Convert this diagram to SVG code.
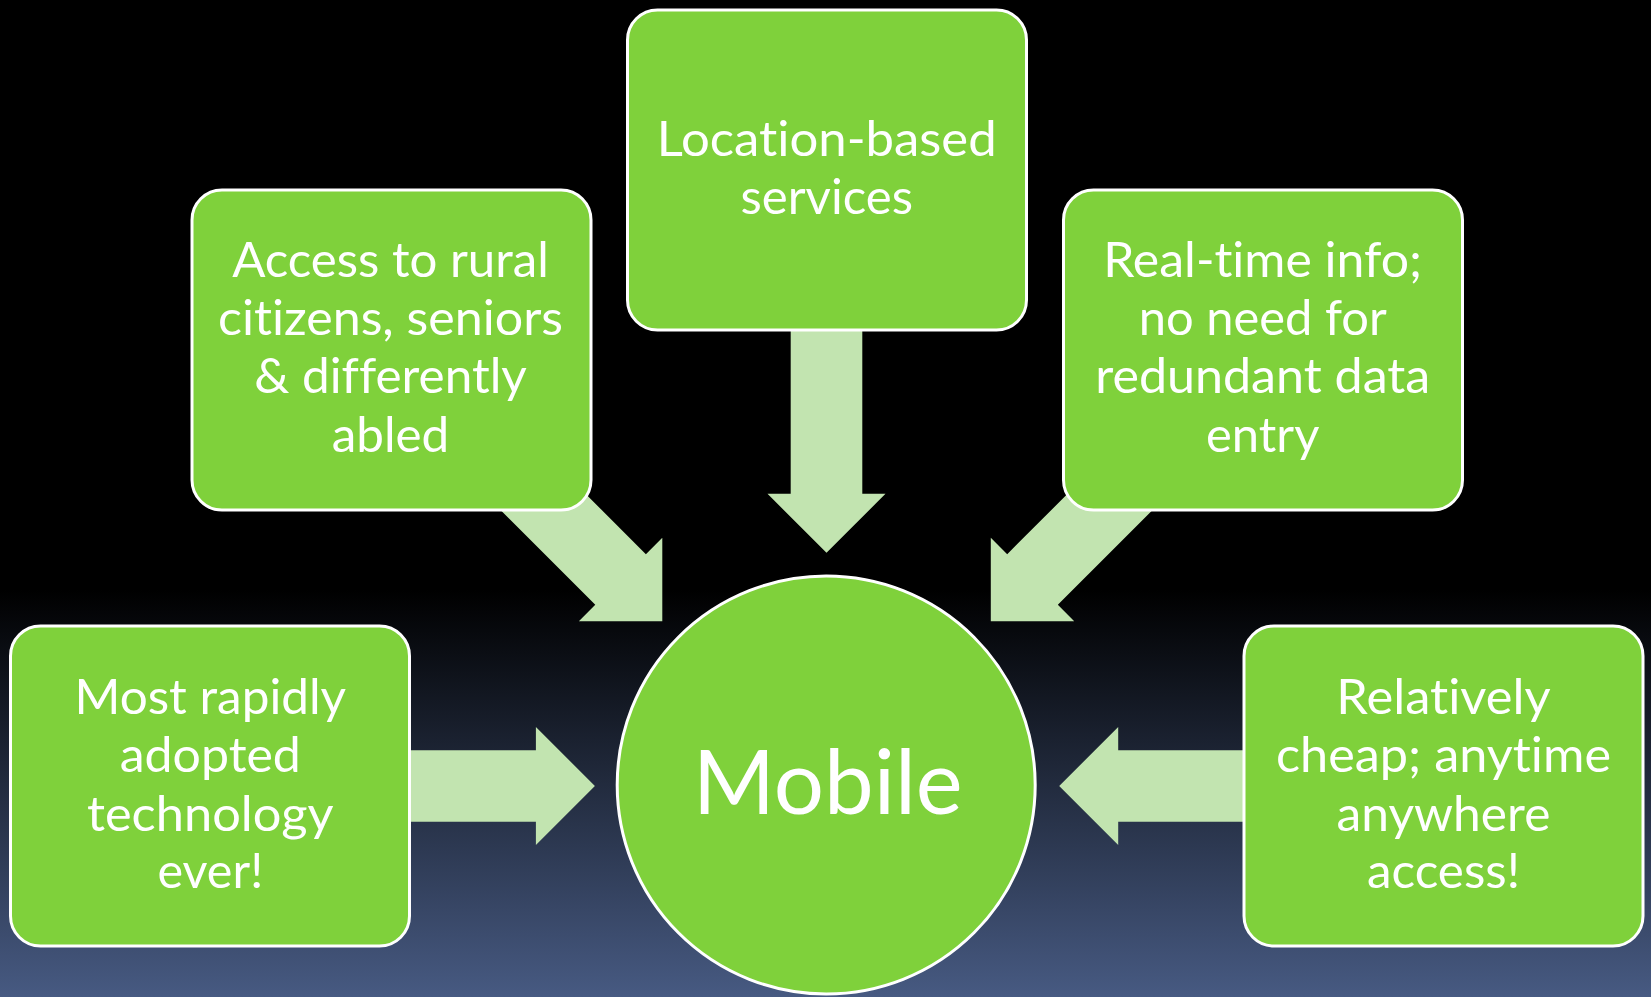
<svg xmlns="http://www.w3.org/2000/svg" xmlns:xlink="http://www.w3.org/1999/xlink" width="1651" height="997" viewBox="0 0 1651 997">
  <defs>
    <linearGradient id="bg" x1="0" y1="590" x2="0" y2="997" gradientUnits="userSpaceOnUse">
      <stop offset="0" stop-color="#000000"/>
      <stop offset="1" stop-color="#475a82"/>
    </linearGradient>
    <!-- block arrow pointing along +x, tip at the origin -->
    <path id="arrow" d="M0,0 L-59,-59 L-59,-35.8 L-240,-35.8 L-240,35.8 L-59,35.8 L-59,59 Z"/>
    <style>
      .arrow { fill: #c2e4b0; }
      .box { fill: #7fd13b; stroke: #ffffff; stroke-width: 3; }
      .label, .hub { fill: #ffffff; font-family: Lato, "Open Sans", sans-serif; text-anchor: middle; font-variant-ligatures: none; font-feature-settings: "liga" 0, "clig" 0; }
      .label { font-size: 48px; }
      .hub { font-size: 90px; }
    </style>
  </defs>

  <rect x="0" y="0" width="1651" height="997" fill="url(#bg)"/>

  <g id="connectors">
    <use xlink:href="#arrow" href="#arrow" class="arrow" transform="translate(826.5,552.8) rotate(90)"/>
    <use xlink:href="#arrow" href="#arrow" class="arrow" transform="translate(662.3,621.2) rotate(45)"/>
    <use xlink:href="#arrow" href="#arrow" class="arrow" transform="translate(990.8,621.2) rotate(135)"/>
    <use xlink:href="#arrow" href="#arrow" class="arrow" transform="translate(594.9,786) rotate(0)"/>
    <use xlink:href="#arrow" href="#arrow" class="arrow" transform="translate(1059.2,786) rotate(180)"/>
  </g>

  <g id="node-access">
    <rect class="box" x="192" y="190" width="399" height="320" rx="30" ry="30"/>
    <text class="label" x="390.5" y="276.7" textLength="316.6" lengthAdjust="spacingAndGlyphs">Access to rural</text>
    <text class="label" x="390.5" y="335" textLength="345" lengthAdjust="spacingAndGlyphs">citizens, seniors</text>
    <text class="label" x="390.5" y="393.3" textLength="272.7" lengthAdjust="spacingAndGlyphs">&amp; differently</text>
    <text class="label" x="390.5" y="451.7" textLength="117.6" lengthAdjust="spacingAndGlyphs">abled</text>
  </g>

  <g id="node-location">
    <rect class="box" x="627.5" y="10" width="399" height="320" rx="30" ry="30"/>
    <text class="label" x="826.7" y="155.5" textLength="340" lengthAdjust="spacingAndGlyphs">Location-based</text>
    <text class="label" x="826.7" y="214" textLength="172.6" lengthAdjust="spacingAndGlyphs">services</text>
  </g>

  <g id="node-realtime">
    <rect class="box" x="1063.5" y="190" width="399" height="320" rx="30" ry="30"/>
    <text class="label" x="1262.7" y="276.7" textLength="319" lengthAdjust="spacingAndGlyphs">Real-time info;</text>
    <text class="label" x="1262.7" y="335" textLength="248" lengthAdjust="spacingAndGlyphs">no need for</text>
    <text class="label" x="1262.7" y="393.3" textLength="335" lengthAdjust="spacingAndGlyphs">redundant data</text>
    <text class="label" x="1262.7" y="451.7" textLength="113.3" lengthAdjust="spacingAndGlyphs">entry</text>
  </g>

  <g id="node-adoption">
    <rect class="box" x="10.5" y="626" width="399" height="320" rx="30" ry="30"/>
    <text class="label" x="210.3" y="714" textLength="271.6" lengthAdjust="spacingAndGlyphs">Most rapidly</text>
    <text class="label" x="210.3" y="772.3" textLength="181.2" lengthAdjust="spacingAndGlyphs">adopted</text>
    <text class="label" x="210.3" y="830.7" textLength="246.7" lengthAdjust="spacingAndGlyphs">technology</text>
    <text class="label" x="210.3" y="888.3" textLength="105.8" lengthAdjust="spacingAndGlyphs">ever!</text>
  </g>

  <g id="node-cost">
    <rect class="box" x="1244" y="626" width="399" height="320" rx="30" ry="30"/>
    <text class="label" x="1443.5" y="714" textLength="214.3" lengthAdjust="spacingAndGlyphs">Relatively</text>
    <text class="label" x="1443.5" y="772.3" textLength="335" lengthAdjust="spacingAndGlyphs">cheap; anytime</text>
    <text class="label" x="1443.5" y="830.7" textLength="213.8" lengthAdjust="spacingAndGlyphs">anywhere</text>
    <text class="label" x="1443.5" y="888.3" textLength="152.9" lengthAdjust="spacingAndGlyphs">access!</text>
  </g>

  <g id="node-mobile">
    <circle class="box" cx="826.2" cy="785" r="209"/>
    <text class="hub" x="827.7" y="814" textLength="270" lengthAdjust="spacingAndGlyphs">Mobile</text>
  </g>
</svg>
